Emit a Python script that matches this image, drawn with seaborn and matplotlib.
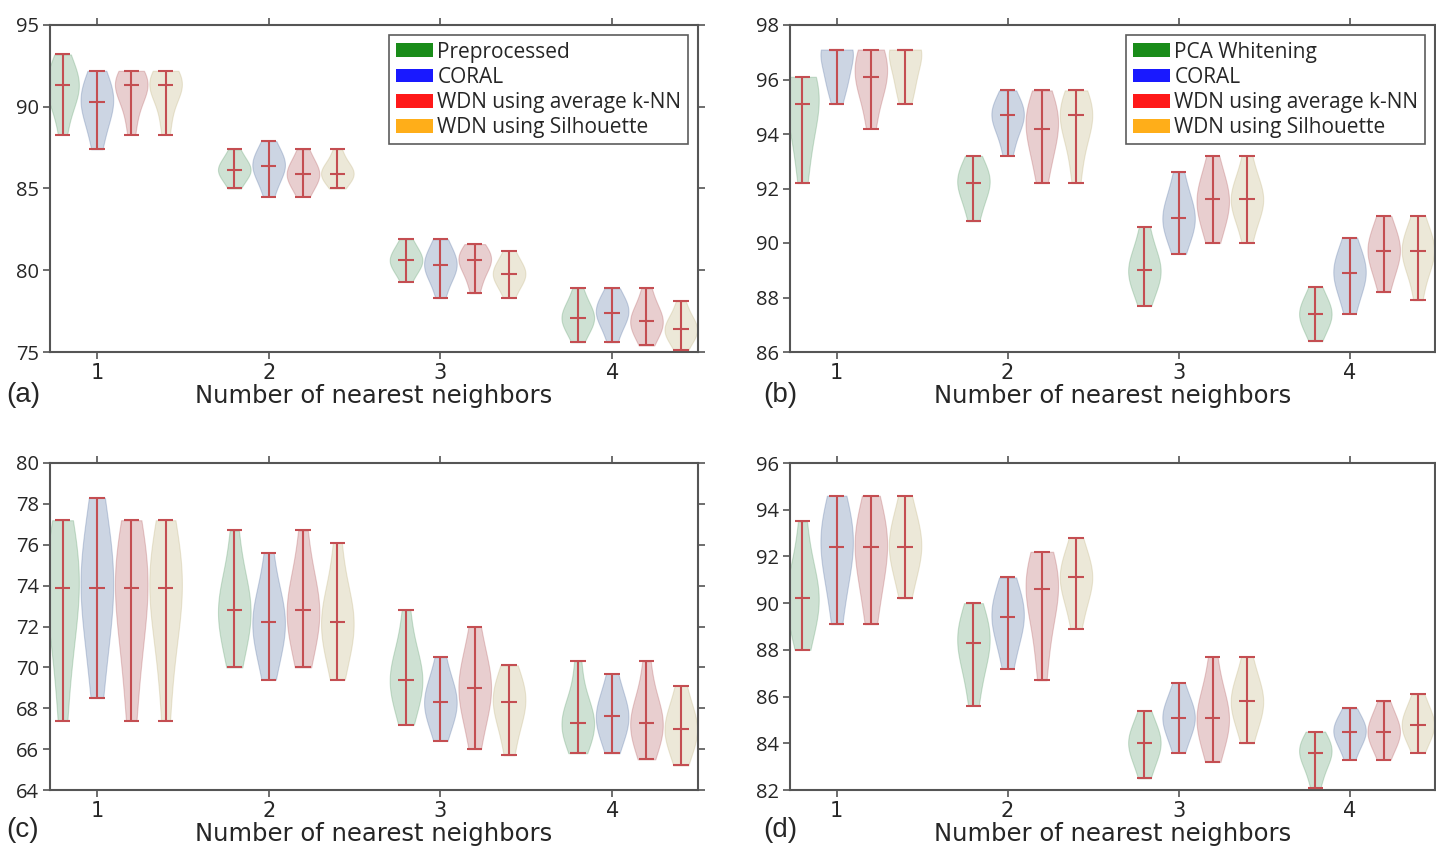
import numpy as np
import pandas as pd
import matplotlib.pyplot as plt
import matplotlib.patches as mpatches
import seaborn as sns

# -------------------------------
# Data (accuracy runs per violin)
# -------------------------------
k_values = [1, 2, 3, 4]
offsets = [-0.2, 0.0, 0.2, 0.4]

labels_ac = ["Preprocessed", "CORAL", "WDN using average k-NN", "WDN using Silhouette"]
labels_bd = ["PCA Whitening", "CORAL", "WDN using average k-NN", "WDN using Silhouette"]

# panel (a)
a_base = [[88.3, 89.8, 90.5, 91.0, 91.3, 91.4, 91.8, 92.4, 93.2],
          [85.0, 85.5, 85.9, 86.1, 86.15, 86.2, 86.5, 86.9, 87.4],
          [79.3, 79.9, 80.3, 80.5, 80.6, 80.7, 81.0, 81.4, 81.9],
          [75.6, 76.3, 76.8, 77.0, 77.1, 77.2, 77.6, 78.1, 78.9]]
a_coral = [[87.4, 88.6, 89.4, 90.1, 90.3, 90.4, 91.0, 91.6, 92.2],
           [84.5, 85.3, 85.9, 86.3, 86.4, 86.5, 86.8, 87.3, 87.9],
           [78.3, 79.3, 79.9, 80.2, 80.3, 80.4, 80.8, 81.3, 81.9],
           [75.6, 76.4, 77.0, 77.3, 77.4, 77.6, 77.9, 78.3, 78.9]]
a_knn = [[88.3, 89.6, 90.4, 91.1, 91.3, 91.4, 91.6, 91.9, 92.2],
         [84.5, 85.1, 85.5, 85.8, 85.9, 86.0, 86.3, 86.8, 87.4],
         [78.6, 79.4, 80.0, 80.5, 80.6, 80.7, 80.9, 81.2, 81.6],
         [75.4, 76.0, 76.5, 76.8, 76.9, 77.0, 77.4, 78.0, 78.9]]
a_sil = [[88.3, 89.4, 90.6, 91.1, 91.3, 91.4, 91.6, 91.9, 92.2],
         [85.0, 85.4, 85.7, 85.9, 85.9, 86.1, 86.3, 86.7, 87.4],
         [78.3, 79.0, 79.4, 79.7, 79.8, 79.9, 80.1, 80.6, 81.2],
         [75.1, 75.7, 76.1, 76.3, 76.4, 76.5, 76.8, 77.3, 78.1]]

# panel (b)
b_base = [[92.2, 93.3, 94.1, 94.7, 95.1, 95.3, 95.7, 96.1, 96.1],
          [90.8, 91.3, 91.8, 92.1, 92.2, 92.3, 92.5, 92.8, 93.2],
          [87.7, 88.3, 88.7, 88.9, 89.0, 89.1, 89.4, 89.9, 90.6],
          [86.4, 86.8, 87.1, 87.3, 87.4, 87.5, 87.7, 88.0, 88.4]]
b_coral = [[95.1, 95.8, 96.1, 96.1, 97.1, 97.1, 97.1, 97.1, 97.1],
           [93.2, 93.8, 94.3, 94.6, 94.7, 94.7, 94.9, 95.2, 95.6],
           [89.6, 90.2, 90.6, 90.8, 90.9, 91.1, 91.4, 91.9, 92.6],
           [87.4, 88.0, 88.5, 88.8, 88.9, 89.0, 89.3, 89.7, 90.2]]
b_knn = [[94.2, 95.1, 95.8, 96.1, 96.1, 96.2, 97.1, 97.1, 97.1],
         [92.2, 93.0, 93.6, 94.0, 94.2, 94.6, 94.8, 95.1, 95.6],
         [90.0, 90.6, 91.0, 91.4, 91.6, 91.7, 92.0, 92.5, 93.2],
         [88.2, 88.8, 89.3, 89.6, 89.7, 89.8, 90.1, 90.5, 91.0]]
b_sil = [[95.1, 95.6, 96.1, 96.2, 97.1, 97.1, 97.1, 97.1, 97.1],
         [92.2, 93.2, 93.9, 94.4, 94.7, 94.7, 94.9, 95.2, 95.6],
         [90.0, 90.8, 91.3, 91.5, 91.6, 91.7, 91.9, 92.4, 93.2],
         [87.9, 88.8, 89.3, 89.6, 89.7, 89.8, 90.0, 90.4, 91.0]]

# panel (c)
c_base = [[67.4, 70.3, 71.8, 73.2, 73.9, 74.4, 75.0, 76.0, 77.2],
          [70.0, 71.0, 72.0, 72.6, 72.8, 73.1, 73.6, 74.6, 76.7],
          [67.2, 68.2, 68.9, 69.2, 69.4, 69.7, 70.2, 71.0, 72.8],
          [65.8, 66.4, 66.9, 67.2, 67.3, 67.5, 67.9, 68.6, 70.3]]
c_coral = [[68.5, 70.6, 72.2, 73.4, 73.9, 74.5, 75.3, 76.5, 78.3],
           [69.4, 70.5, 71.4, 72.0, 72.2, 72.5, 72.9, 73.8, 75.6],
           [66.4, 67.2, 67.8, 68.1, 68.3, 68.5, 68.9, 69.5, 70.5],
           [65.8, 66.5, 67.1, 67.4, 67.6, 67.8, 68.2, 68.8, 69.7]]
c_knn = [[67.4, 70.0, 71.6, 73.0, 73.9, 74.3, 74.9, 75.8, 77.2],
         [70.0, 71.0, 72.0, 72.5, 72.8, 73.1, 73.7, 74.7, 76.7],
         [66.0, 67.4, 68.2, 68.7, 69.0, 69.3, 69.8, 70.6, 72.0],
         [65.5, 66.2, 66.8, 67.1, 67.3, 67.5, 68.0, 68.7, 70.3]]
c_sil = [[67.4, 70.5, 72.0, 73.2, 73.9, 74.3, 74.9, 75.8, 77.2],
         [69.4, 70.6, 71.5, 72.0, 72.2, 72.5, 73.0, 74.0, 76.1],
         [65.7, 66.8, 67.6, 68.1, 68.3, 68.5, 68.9, 69.4, 70.1],
         [65.2, 65.9, 66.5, 66.8, 67.0, 67.2, 67.6, 68.2, 69.1]]

# panel (d)
d_base = [[88.0, 88.9, 89.7, 90.1, 90.2, 90.4, 91.0, 91.8, 93.5],
          [85.6, 86.7, 87.6, 88.1, 88.3, 88.5, 88.9, 89.4, 90.0],
          [82.5, 83.1, 83.6, 83.9, 84.0, 84.1, 84.4, 84.8, 85.4],
          [82.1, 82.7, 83.2, 83.5, 83.6, 83.7, 83.9, 84.2, 84.5]]
d_coral = [[89.1, 90.5, 91.4, 92.1, 92.4, 92.8, 93.3, 93.9, 94.6],
           [87.2, 88.1, 88.8, 89.2, 89.4, 89.6, 90.0, 90.5, 91.1],
           [83.6, 84.2, 84.7, 85.0, 85.1, 85.2, 85.5, 85.9, 86.6],
           [83.3, 83.8, 84.2, 84.4, 84.5, 84.6, 84.8, 85.1, 85.5]]
d_knn = [[89.1, 90.3, 91.2, 92.0, 92.4, 92.6, 93.1, 93.7, 94.6],
         [86.7, 88.2, 89.4, 90.2, 90.6, 90.8, 91.1, 91.6, 92.2],
         [83.2, 84.0, 84.6, 84.9, 85.1, 85.3, 85.7, 86.4, 87.7],
         [83.3, 83.8, 84.2, 84.4, 84.5, 84.6, 84.9, 85.3, 85.8]]
d_sil = [[90.2, 91.1, 91.9, 92.3, 92.4, 92.5, 93.3, 93.6, 94.6],
         [88.9, 89.8, 90.5, 90.9, 91.1, 91.2, 91.5, 92.0, 92.8],
         [84.0, 84.8, 85.3, 85.6, 85.8, 86.0, 86.3, 86.8, 87.7],
         [83.6, 84.1, 84.5, 84.7, 84.8, 84.9, 85.2, 85.6, 86.1]]

# -------------------------------
# Style
# -------------------------------
sns.set_style("ticks")
plt.rcParams["font.family"] = ["Open Sans", "DejaVu Sans"]

body_colors = ["#55A868", "#4C72B0", "#C44E52", "#CCB974"]
legend_colors = ["green", "blue", "red", "orange"]
line_color = "#C44E52"
spine_color = "#555555"


def draw_panel(ax, series, labels, ylim, yticks, tag, tag_x, tag_y):
    rows = []
    for m, values in enumerate(series):
        for k, samples in zip(k_values, values):
            for v in samples:
                rows.append({"pos": round(k + offsets[m], 2), "method": labels[m], "acc": v})
    df = pd.DataFrame(rows)

    sns.violinplot(data=df, x="pos", y="acc", hue="method", hue_order=labels,
                   palette=body_colors, native_scale=True, dodge=False, cut=0,
                   inner=None, density_norm="width", width=0.95, bw_adjust=1.25,
                   linewidth=0.8, legend=False, ax=ax)
    for col in ax.collections:
        fc = col.get_facecolor()
        col.set_edgecolor(fc)
        col.set_alpha(0.3)

    # extrema + median bars like plt.violinplot
    stats = df.groupby("pos")["acc"].agg(["min", "median", "max"]).reset_index()
    ax.vlines(stats["pos"], stats["min"], stats["max"], color=line_color, lw=1.5, zorder=3)
    for c in ["min", "median", "max"]:
        ax.hlines(stats[c], stats["pos"] - 0.045, stats["pos"] + 0.045,
                  color=line_color, lw=1.5, zorder=3)

    ax.set_xlim(0.727, 4.5)
    ax.set_ylim(*ylim)
    ax.set_xticks(k_values)
    ax.set_yticks(yticks)
    ax.set_xticklabels([str(k) for k in k_values], fontsize=15, family="DejaVu Sans")
    ax.set_yticklabels([str(t) for t in yticks], fontsize=14.5)
    ax.set_xlabel("Number of nearest neighbors", fontsize=17.5, family="DejaVu Sans",
                  labelpad=1)
    ax.set_ylabel("")
    ax.tick_params(top=True, right=True, direction="out", length=5, width=1.2,
                   color=spine_color, pad=3)
    for s in ax.spines.values():
        s.set_visible(True)
        s.set_color(spine_color)
        s.set_linewidth(1.5)

    ax.figure.text(tag_x, tag_y, tag, fontsize=20, family="Liberation Sans",
                   ha="left", va="center")


fig = plt.figure(figsize=(14.36, 8.48), dpi=100)
W, H = 1436.0, 848.0
ax_a = fig.add_axes([50 / W, 1 - 352 / H, 648 / W, 327 / H])
ax_b = fig.add_axes([790 / W, 1 - 352 / H, 645 / W, 327 / H])
ax_c = fig.add_axes([50 / W, 1 - 790 / H, 648 / W, 327 / H])
ax_d = fig.add_axes([790 / W, 1 - 790 / H, 645 / W, 327 / H])

draw_panel(ax_a, [a_base, a_coral, a_knn, a_sil], labels_ac, (75, 95), [75, 80, 85, 90, 95],
           "(a)", 6 / W, 1 - 395 / H)
draw_panel(ax_b, [b_base, b_coral, b_knn, b_sil], labels_bd, (86, 98), list(range(86, 99, 2)),
           "(b)", 763 / W, 1 - 395 / H)
draw_panel(ax_c, [c_base, c_coral, c_knn, c_sil], labels_ac, (64, 80), list(range(64, 81, 2)),
           "(c)", 6 / W, 1 - 830 / H)
draw_panel(ax_d, [d_base, d_coral, d_knn, d_sil], labels_bd, (82, 96), list(range(82, 97, 2)),
           "(d)", 763 / W, 1 - 830 / H)

for ax, labels in [(ax_a, labels_ac), (ax_b, labels_bd)]:
    handles = [mpatches.Patch(facecolor=c, edgecolor="none", alpha=0.9, label=l)
               for c, l in zip(legend_colors, labels)]
    leg = ax.legend(handles=handles, loc="upper right", fontsize=15, frameon=True,
                    fancybox=False, handlelength=1.8, handleheight=0.65,
                    handletextpad=0.2, labelspacing=0.2, borderpad=0.3,
                    borderaxespad=0.5)
    leg.get_frame().set_edgecolor("#333333")
    leg.get_frame().set_linewidth(1.2)

fig.savefig("out.png", dpi=100)
